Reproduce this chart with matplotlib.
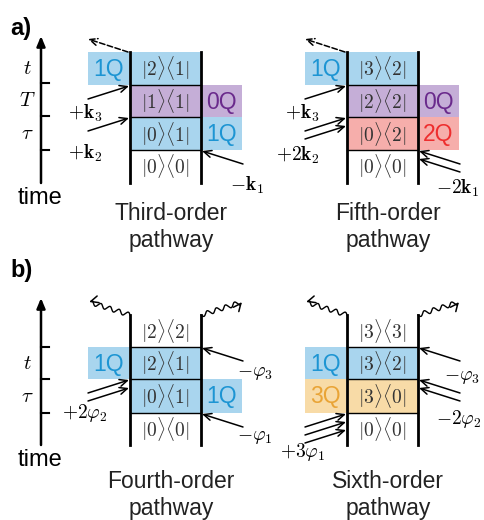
import numpy as np
import matplotlib
matplotlib.use("Agg")
import matplotlib.pyplot as plt
from matplotlib.patches import Rectangle

plt.rcParams['mathtext.fontset'] = 'cm'
SANS = 'Liberation Sans'

# ---- data: states, coherence orders and field labels of each pathway ----
third_states = [r'$|2\rangle\langle 1|$', r'$|1\rangle\langle 1|$', r'$|0\rangle\langle 1|$', r'$|0\rangle\langle 0|$']
third_coh = ['1Q', '0Q', '1Q', None]
third_side = ['L', 'R', 'R', None]

fifth_states = [r'$|3\rangle\langle 2|$', r'$|2\rangle\langle 2|$', r'$|0\rangle\langle 2|$', r'$|0\rangle\langle 0|$']
fifth_coh = ['1Q', '0Q', '2Q', None]
fifth_side = ['L', 'R', 'R', None]

fourth_states = [r'$|2\rangle\langle 2|$', r'$|2\rangle\langle 1|$', r'$|0\rangle\langle 1|$', r'$|0\rangle\langle 0|$']
fourth_coh = [None, '1Q', '1Q', None]
fourth_side = [None, 'L', 'R', None]

sixth_states = [r'$|3\rangle\langle 3|$', r'$|3\rangle\langle 2|$', r'$|3\rangle\langle 0|$', r'$|0\rangle\langle 0|$']
sixth_coh = [None, '1Q', '3Q', None]
sixth_side = [None, 'L', 'L', None]

# interactions: (side, boundary index, number of photons, label)
third_fields = [('L', 1, 1, r'$+\mathbf{k}_3$'), ('L', 2, 1, r'$+\mathbf{k}_2$'), ('R', 3, 1, r'$-\mathbf{k}_1$')]
fifth_fields = [('L', 1, 1, r'$+\mathbf{k}_3$'), ('L', 2, 2, r'$+2\mathbf{k}_2$'), ('R', 3, 2, r'$-2\mathbf{k}_1$')]
fourth_fields = [('L', 2, 2, r'$+2\varphi_2$'), ('R', 1, 1, r'$-\varphi_3$'), ('R', 3, 1, r'$-\varphi_1$')]
sixth_fields = [('L', 3, 3, r'$+3\varphi_1$'), ('R', 1, 1, r'$-\varphi_3$'), ('R', 2, 2, r'$-2\varphi_2$')]

titles = ['Third-order\npathway', 'Fifth-order\npathway', 'Fourth-order\npathway', 'Sixth-order\npathway']
time_labels_a = ['$t$', '$T$', r'$\tau$']
time_labels_b = ['$t$', r'$\tau$']

fill = {'1Q': '#a9d5ee', '0Q': '#c5aed7', '2Q': '#f6aeab', '3Q': '#f8dba7'}
ink = {'1Q': '#1d95d3', '0Q': '#6a2a8c', '2Q': '#ee2e2e', '3Q': '#e9a436'}

# ---- layout (pixel coordinates) ----
rows_a = [52, 85, 117, 150, 183]
rows_b = [315, 347, 379, 413, 445]
# label centre offsets (dx from diagram line, dy from arrow tip) for each field
third_lab = [(-45, 28), (-45, 36), (46, 35)]
fifth_lab = [(-45, 28), (-49, 38), (40, 38)]
fourth_lab = [(-45, 34), (54, 26), (54, 24)]
sixth_lab = [(-44, 39), (44, 30), (41, 40)]

fig = plt.figure(figsize=(4.84, 5.2), dpi=100)
ax = fig.add_axes([0, 0, 1, 1])
ax.set_xlim(0, 484)
ax.set_ylim(520, 0)
ax.axis('off')


def arrow(p0, p1, ls='-'):
    ax.annotate('', xy=p1, xytext=p0,
                arrowprops=dict(arrowstyle='->,head_length=0.55,head_width=0.25', lw=1.1,
                                color='k', shrinkA=0, shrinkB=0, linestyle=ls))


def wavy(p0, p1, n=4.5, amp=2.2):
    p0 = np.array(p0, float)
    p1 = np.array(p1, float)
    d = p1 - p0
    L = np.hypot(*d)
    u = d / L
    nrm = np.array([-u[1], u[0]])
    t = np.linspace(0, 0.93, 300)
    w = amp * np.sin(2 * np.pi * n * t)
    pts = p0 + t[:, None] * d + w[:, None] * nrm
    ax.plot(pts[:, 0], pts[:, 1], color='k', lw=1.0)
    arrow(tuple(pts[-1]), tuple(p1))


def diagram(x0, rows, states, coh, side, fields, labpos, title, emit, title_dy):
    x1 = x0 + 71
    for i, (s, c, sd) in enumerate(zip(states, coh, side)):
        ya, yb = rows[i], rows[i + 1]
        if c is not None:
            ax.add_patch(Rectangle((x0, ya), 71, yb - ya, color=fill[c], lw=0, zorder=1))
            bx = x0 - 42 if sd == 'L' else x1
            ax.add_patch(Rectangle((bx, ya), 41, yb - ya, color=fill[c], lw=0, zorder=1))
            ax.text(bx + 20.5, (ya + yb) / 2 + 1, c, color=ink[c], fontsize=16.5,
                    family=SANS, ha='center', va='center', zorder=3)
        ax.text(x0 + 35.5, (ya + yb) / 2, s, fontsize=14, color='#333333',
                ha='center', va='center', zorder=3)
    for y in rows[1:-1]:
        ax.plot([x0, x1], [y, y], color='k', lw=1.0, zorder=2)
    ax.plot([x0, x0], [rows[0], rows[-1]], color='k', lw=2.0, zorder=2)
    ax.plot([x1, x1], [rows[0], rows[-1]], color='k', lw=2.0, zorder=2)

    for (sd, b, n, lab), (ldx, ldy) in zip(fields, labpos):
        y = rows[b]
        for k in range(n):
            if sd == 'L':
                arrow((x0 - 42, y + 14 + 8 * k), (x0 - 1, y + 1 + 8 * k))
            else:
                arrow((x1 + 42, y + 14 + 8 * k), (x1 + 1, y + 1 + 8 * k))
        lx = x0 + ldx if sd == 'L' else x1 + ldx
        ax.text(lx, y + ldy, lab, fontsize=14, ha='center', va='center')

    if emit == 'dashed':
        arrow((x0 - 2, rows[0]), (x0 - 42, rows[0] - 13), ls='--')
    else:
        wavy((x0, rows[0]), (x0 - 41, rows[0] - 13))
        wavy((x1, rows[0]), (x1 + 41, rows[0] - 13))

    ax.text(x0 + 41, rows[-1] + title_dy, title, fontsize=16.5, family=SANS, color='#222222',
            ha='center', va='center', linespacing=1.25)


def time_axis(y_bot, y_top, ticks, spans, labels):
    ax.annotate('', xy=(41, y_top), xytext=(41, y_bot),
                arrowprops=dict(arrowstyle='-|>,head_length=0.6,head_width=0.25', lw=1.8,
                                color='k', shrinkA=0, shrinkB=0))
    for y in ticks:
        ax.plot([41, 49], [y, y], color='k', lw=1.5)
    for (ya, yb), lab in zip(spans, labels):
        ax.text(27, (ya + yb) / 2, lab, fontsize=15, ha='center', va='center')
    ax.text(40, y_bot + 15, 'time', fontsize=17, family=SANS, ha='center', va='center')


ax.text(10, 28, 'a)', fontsize=17, fontweight='bold', family=SANS, va='center')
ax.text(10, 270, 'b)', fontsize=17, fontweight='bold', family=SANS, va='center')

time_axis(183, 36, [83, 116, 150], [(54, 83), (83, 116), (116, 150)], time_labels_a)
time_axis(445, 298, [347, 379, 413], [(347, 379), (379, 413)], time_labels_b)

diagram(130, rows_a, third_states, third_coh, third_side, third_fields, third_lab, titles[0], 'dashed', 44)
diagram(347, rows_a, fifth_states, fifth_coh, fifth_side, fifth_fields, fifth_lab, titles[1], 'dashed', 44)
diagram(130, rows_b, fourth_states, fourth_coh, fourth_side, fourth_fields, fourth_lab, titles[2], 'wavy', 50)
diagram(347, rows_b, sixth_states, sixth_coh, sixth_side, sixth_fields, sixth_lab, titles[3], 'wavy', 50)

fig.savefig('out.png', dpi=100)
